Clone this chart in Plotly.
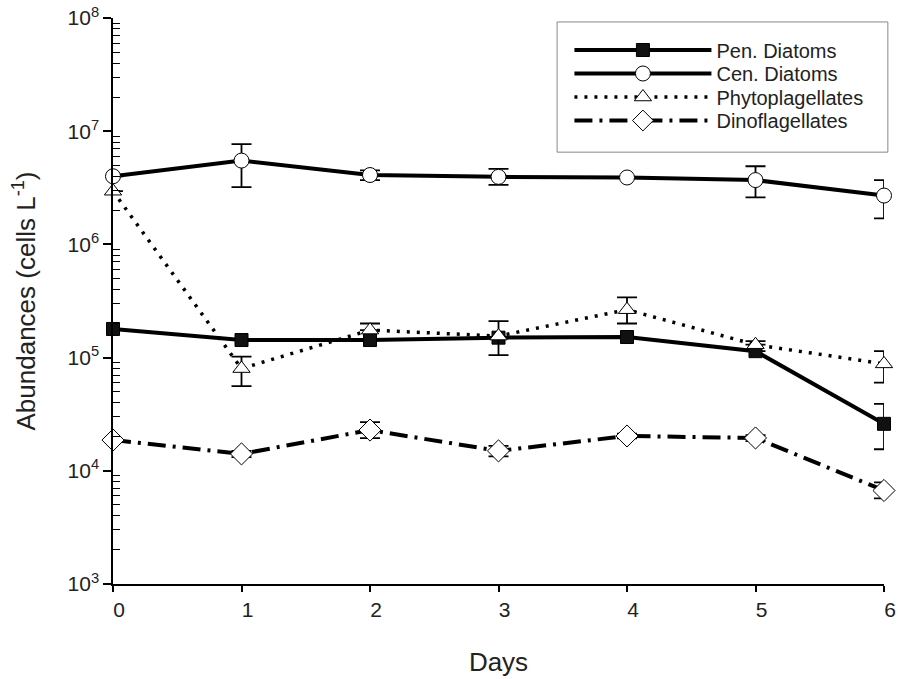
import plotly.graph_objects as go

days = [0, 1, 2, 3, 4, 5, 6]

pen = [1.79e5, 1.43e5, 1.43e5, 1.5e5, 1.52e5, 1.14e5, 2.6e4]
pen_err_plus = [0, 0, 0, 0, 0, 0, 1.3e4]
pen_err_minus = [0, 0, 0, 0, 0, 0, 1.05e4]

cen = [4.0e6, 5.5e6, 4.1e6, 3.95e6, 3.9e6, 3.7e6, 2.7e6]
cen_err_plus = [0, 2.2e6, 0.4e6, 0.7e6, 0, 1.2e6, 1.0e6]
cen_err_minus = [0, 2.3e6, 0.4e6, 0.6e6, 0, 1.1e6, 1.0e6]

phy = [2.95e6, 8.0e4, 1.75e5, 1.55e5, 2.65e5, 1.3e5, 8.8e4]
phy_err_plus = [0, 2.2e4, 2.5e4, 5.5e4, 7.5e4, 1.0e4, 2.6e4]
phy_err_minus = [0, 2.4e4, 0, 5.0e4, 6.5e4, 0, 2.8e4]

din = [1.87e4, 1.41e4, 2.29e4, 1.5e4, 2.03e4, 1.95e4, 6.7e3]
din_err_plus = [0, 900, 4000, 1600, 1000, 1200, 1200]
din_err_minus = [0, 900, 3500, 1600, 1000, 1200, 1000]

y_tickvals = [1e3, 1e4, 1e5, 1e6, 1e7, 1e8]
y_ticktext = ["10<sup>3</sup>", "10<sup>4</sup>", "10<sup>5</sup>", "10<sup>6</sup>", "10<sup>7</sup>", "10<sup>8</sup>"]

FONT = "Arial"
TXT = "#222222"


def err(plus, minus):
    return dict(type="data", symmetric=False, array=plus, arrayminus=minus,
                color="black", thickness=1.8, width=10)


fig = go.Figure()
fig.add_trace(go.Scatter(
    x=days, y=pen, name="Pen. Diatoms", mode="lines+markers", legend="legend",
    line=dict(color="black", width=4),
    marker=dict(symbol="square", size=13, color="#111111", line=dict(color="black", width=1)),
    error_y=err(pen_err_plus, pen_err_minus), cliponaxis=False))
fig.add_trace(go.Scatter(
    x=days, y=cen, name="Cen. Diatoms", mode="lines+markers", legend="legend2",
    line=dict(color="black", width=4),
    marker=dict(symbol="circle", size=15, color="white", line=dict(color="black", width=1)),
    error_y=err(cen_err_plus, cen_err_minus), cliponaxis=False))
fig.add_trace(go.Scatter(
    x=days, y=phy, name="Phytoplagellates", mode="lines+markers", legend="legend3",
    line=dict(color="black", width=3.5, dash="3px,7px"),
    marker=dict(symbol="triangle-up", size=15, color="white", line=dict(color="black", width=1)),
    error_y=err(phy_err_plus, phy_err_minus), cliponaxis=False))
fig.add_trace(go.Scatter(
    x=days, y=din, name="Dinoflagellates", mode="lines+markers", legend="legend4",
    line=dict(color="black", width=4, dash="18px,7px,3px,7px"),
    marker=dict(symbol="diamond", size=17, color="white", line=dict(color="black", width=1)),
    error_y=err(din_err_plus, din_err_minus), cliponaxis=False))


def leg(ypx):
    return dict(x=0.592, y=(584 - ypx) / 566, xanchor="left", yanchor="middle",
                borderwidth=0, bgcolor="rgba(0,0,0,0)",
                font=dict(family=FONT, size=20, color=TXT),
                itemwidth=137, tracegroupgap=0, itemsizing="trace")


fig.update_layout(
    width=898, height=679,
    margin=dict(l=113, r=14, t=18, b=95),
    plot_bgcolor="white", paper_bgcolor="white",
    font=dict(family=FONT, size=21, color=TXT),
    showlegend=True,
    legend=leg(50), legend2=leg(73.5), legend3=leg(97), legend4=leg(120.5),
    shapes=[dict(type="rect", xref="paper", yref="paper", x0=0.576, x1=1.005, y0=0.763, y1=0.993,
                 line=dict(color="#888888", width=1), fillcolor="rgba(0,0,0,0)", layer="below")],
    xaxis=dict(range=[0, 6], tickvals=days, ticks="outside", ticklen=6, tickwidth=1.5,
               tickcolor="black", showline=True, linecolor="black", linewidth=1.5,
               showgrid=False, zeroline=False, mirror=False, ticklabelshift=6, automargin=False,
               title=dict(text="Days", font=dict(family=FONT, size=26, color=TXT), standoff=33),
               tickfont=dict(family=FONT, size=21, color=TXT)),
    yaxis=dict(type="log", range=[3, 8], tickvals=y_tickvals, ticktext=y_ticktext,
               ticks="outside", ticklen=8, tickwidth=1.5, tickcolor="black",
               showline=True, linecolor="black", linewidth=1.5,
               showgrid=False, zeroline=False, automargin=False,
               minor=dict(ticks="inside", ticklen=7, tickwidth=1.2, tickcolor="black", showgrid=False,
                          tickvals=[m * 10 ** e for e in range(3, 8) for m in range(2, 10)]),
               title=dict(text="Abundances (cells L<sup>-1</sup>)",
                          font=dict(family=FONT, size=26, color=TXT), standoff=24),
               tickfont=dict(family=FONT, size=21, color=TXT)),
    yaxis2=dict(type="log", range=[3, 8], overlaying="y", side="left", tickvals=y_tickvals,
                ticks="inside", ticklen=9, tickwidth=1.5, tickcolor="black", automargin=False,
                showticklabels=False, showgrid=False, zeroline=False, showline=False),
)
fig.write_html("out.html")
